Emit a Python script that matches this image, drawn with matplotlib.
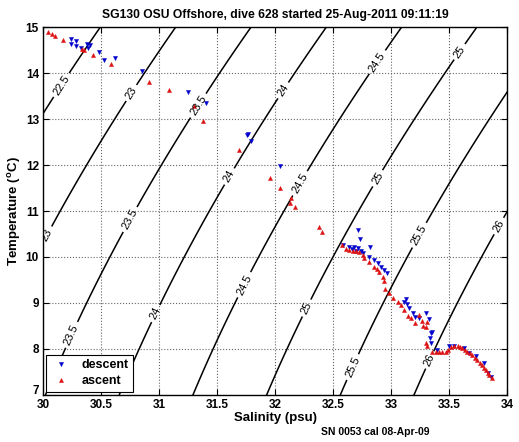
import numpy as np
import matplotlib
matplotlib.use("Agg")
import matplotlib.pyplot as plt
import matplotlib.transforms as mtransforms

plt.rcParams['font.family'] = ['Liberation Sans', 'DejaVu Sans']

# descent (blue) samples, salinity psu / temperature degC
descent_sal = [30.241, 30.281, 30.241, 30.281, 30.376, 30.404, 30.390, 30.324, 30.484,
               30.525, 30.619, 30.849, 31.250, 31.408, 31.766, 31.757, 31.795, 32.045,
               32.718, 32.731, 32.589, 32.641, 32.684, 32.712, 32.742, 32.755, 32.667,
               32.701, 32.822, 32.813, 32.856, 32.884, 32.914, 32.942, 32.962, 33.129,
               33.108, 33.137, 33.157, 33.185, 33.209, 33.243, 33.299, 33.329, 33.357,
               33.335, 33.346, 33.344, 33.398, 33.503, 33.544, 33.630, 33.673, 33.731,
               33.802, 33.839, 33.860]
descent_temp = [14.75, 14.71, 14.64, 14.60, 14.64, 14.62, 14.56, 14.55, 14.47,
                14.30, 14.33, 14.06, 13.59, 13.35, 12.68, 12.65, 12.52, 11.98,
                10.59, 10.40, 10.25, 10.22, 10.21, 10.19, 10.14, 10.09, 10.17,
                10.13, 10.22, 9.99, 9.93, 9.86, 9.79, 9.72, 9.66, 9.08,
                9.03, 8.98, 8.88, 8.79, 8.69, 8.66, 8.77, 8.64, 8.37,
                8.23, 8.34, 8.12, 7.97, 8.06, 8.05, 8.01, 7.90, 7.84,
                7.68, 7.47, 7.39]

# ascent (red) samples
ascent_sal = [30.040, 30.075, 30.103, 30.175, 30.333, 30.355, 30.433, 30.582, 30.914,
              31.086, 31.301, 31.376, 31.689, 31.953, 32.039, 32.136, 32.133, 32.176,
              32.380, 32.404, 32.576, 32.612, 32.641, 32.669, 32.698, 32.727, 32.755,
              32.770, 32.813, 32.856, 32.882, 32.899, 32.927, 32.942, 32.951, 32.985,
              33.013, 33.056, 33.086, 33.114, 33.142, 33.174, 33.209, 33.243, 33.266,
              33.314, 33.301, 33.277, 33.301, 33.314, 33.357, 33.389, 33.415, 33.443,
              33.473, 33.493, 33.516, 33.544, 33.573, 33.596, 33.615, 33.639, 33.658,
              33.682, 33.702, 33.725, 33.745, 33.768, 33.788, 33.802, 33.817, 33.832,
              33.845, 33.868]
ascent_temp = [14.91, 14.86, 14.82, 14.73, 14.53, 14.50, 14.39, 14.20, 13.82,
               13.63, 13.29, 12.96, 12.33, 11.73, 11.51, 11.29, 11.18, 11.08,
               10.66, 10.55, 10.27, 10.17, 10.16, 10.14, 10.12, 10.10, 10.04,
               9.98, 9.90, 9.79, 9.74, 9.68, 9.57, 9.48, 9.30, 9.21,
               9.10, 9.03, 8.95, 8.85, 8.71, 8.67, 8.57, 8.74, 8.61,
               8.59, 8.47, 8.50, 8.12, 8.07, 7.94, 7.92, 7.92, 7.92,
               7.94, 7.98, 8.03, 8.05, 8.05, 8.03, 8.01, 7.97, 7.94,
               7.90, 7.87, 7.81, 7.76, 7.70, 7.65, 7.59, 7.54, 7.48,
               7.43, 7.36]

sigma_levels = [22.5, 23, 23.5, 24, 24.5, 25, 25.5, 26]
xticks = [30, 30.5, 31, 31.5, 32, 32.5, 33, 33.5, 34]
yticks = [7, 8, 9, 10, 11, 12, 13, 14, 15]


def sigma_t(S, T):
    """UNESCO 1983 density at surface pressure, minus 1000"""
    rho_w = (999.842594 + 6.793952e-2 * T - 9.095290e-3 * T**2 + 1.001685e-4 * T**3
             - 1.120083e-6 * T**4 + 6.536332e-9 * T**5)
    A = 8.24493e-1 - 4.0899e-3 * T + 7.6438e-5 * T**2 - 8.2467e-7 * T**3 + 5.3875e-9 * T**4
    B = -5.72466e-3 + 1.0227e-4 * T - 1.6546e-6 * T**2
    C = 4.8314e-4
    return rho_w + A * S + B * S**1.5 + C * S**2 - 1000.0


fig = plt.figure(figsize=(5.19, 4.42), dpi=100)
ax = fig.add_axes([0.083, 0.107, 0.894, 0.831])

ss, tt = np.meshgrid(np.linspace(29.9, 34.1, 300), np.linspace(6.9, 15.1, 300))
cs = ax.contour(ss, tt, sigma_t(ss, tt), levels=sigma_levels, colors='black', linewidths=1.1)
label_spots = [(30.13, 13.79), (30.75, 13.59), (31.22, 13.48), (31.86, 13.96), (32.86, 14.28),
               (33.59, 14.47), (30.06, 10.45), (30.68, 10.91), (31.58, 11.79), (32.21, 11.61),
               (32.88, 11.72), (30.15, 8.41), (30.90, 8.85), (31.86, 9.24), (32.27, 8.89),
               (33.24, 10.48), (32.67, 7.60), (33.91, 10.70), (33.33, 7.76)]
ax.clabel(cs, fmt='%g', fontsize=8, manual=label_spots, inline=True, inline_spacing=3)

ax.plot(descent_sal, descent_temp, 'v', color='#0000cc', markersize=3, mew=0.3,
        linestyle='none', label='descent')
ax.plot(ascent_sal, ascent_temp, '^', color='#dd1111', markersize=3, mew=0.3,
        linestyle='none', label='ascent')

ax.set_xlim(30, 34)
ax.set_ylim(7, 15)
ax.set_xticks(xticks)
ax.set_xticklabels([f'{v:g}' for v in xticks])
ax.set_yticks(yticks)
ax.grid(True, linestyle=':', color='#666666', linewidth=0.8)
ax.tick_params(direction='in', length=4, labelsize=8.5, top=True, right=True, pad=3)
for lbl in ax.get_xticklabels() + ax.get_yticklabels():
    lbl.set_fontweight('bold')
# lift the "7" off the "30" like the original
ylab7 = ax.get_yticklabels()[0]
ylab7.set_transform(ylab7.get_transform() + mtransforms.ScaledTranslation(0, 4 / 72, fig.dpi_scale_trans))
for sp in ax.spines.values():
    sp.set_linewidth(1.0)

ax.set_xlabel('Salinity (psu)', fontsize=9.5, fontweight='bold', labelpad=1)
ax.set_ylabel('Temperature ($\\mathregular{^o}$C)', fontsize=9.5, fontweight='bold', labelpad=2)
ax.set_title('SG130 OSU Offshore, dive 628 started 25-Aug-2011 09:11:19',
             fontsize=8.7, fontweight='bold', pad=7)
leg = ax.legend(loc='lower left', prop={'size': 9, 'weight': 'bold'}, fancybox=False,
                edgecolor='black', framealpha=1, borderaxespad=0.25, handlelength=1.6,
                handletextpad=0.9, borderpad=0.35, labelspacing=0.3)
leg.get_frame().set_linewidth(0.8)

fig.text(0.618, 0.016, 'SN 0053 cal 08-Apr-09', fontsize=7.5, fontweight='bold')

fig.savefig('out.png', dpi=100)
